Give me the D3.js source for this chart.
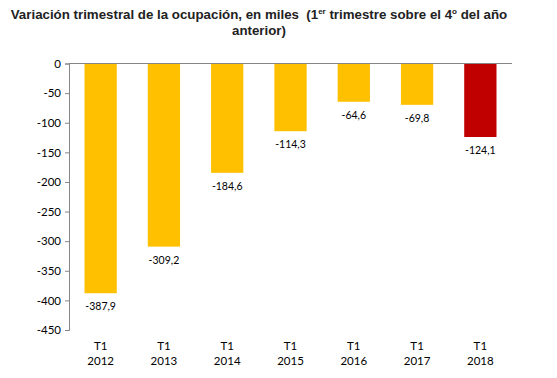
<!DOCTYPE html>
<html><head><meta charset="utf-8">
<script src="https://cdn.jsdelivr.net/npm/d3@7"></script>
<style>body{margin:0;background:#fff}svg{display:block}</style>
</head><body>
<svg id="c" width="557" height="378"></svg>
<script>
const years = ["2012","2013","2014","2015","2016","2017","2018"];
const quarter = "T1";
const values = [-387.9, -309.2, -184.6, -114.3, -64.6, -69.8, -124.1];
const barColors = ["#FFC000","#FFC000","#FFC000","#FFC000","#FFC000","#FFC000","#C00000"];
const yTicks = [0,-50,-100,-150,-200,-250,-300,-350,-400,-450];

(function(){
const svg = d3.select("#c");
const mLeft = 69, mRight = 512, mTop = 63.5, mBottom = 330;
const x = d3.scaleBand().domain(years).range([mLeft, mRight]).paddingInner(0.49).paddingOuter(0.245);
const y = d3.scaleLinear().domain([0, -450]).range([mTop, mBottom]);
const fmt = v => v.toFixed(1).replace(".", ",");
const font = "Lato, 'Open Sans', sans-serif";

// title
const t = svg.append("text").attr("x", 259).attr("y", 19).attr("text-anchor","middle")
  .style("white-space","pre")
  .style("font-family","Liberation Sans, Arial, sans-serif").style("font-weight","bold").style("font-size","13.3px").attr("fill","#222");
t.append("tspan").text("Variación trimestral de la ocupación, en miles  (1");
t.append("tspan").text("er").attr("dy",-5).style("font-size","8px");
t.append("tspan").text(" trimestre sobre el 4").attr("dy",5);
t.append("tspan").text("o").attr("dy",-5).style("font-size","8px");
t.append("tspan").text(" del año").attr("dy",5);
svg.append("text").attr("x",259).attr("y",35).attr("text-anchor","middle")
  .style("font-family","Liberation Sans, Arial, sans-serif").style("font-weight","bold").style("font-size","13.3px").attr("fill","#222").text("anterior)");

// y axis
const yAxis = d3.axisLeft(y).tickValues(yTicks).tickSize(4).tickFormat(d => String(d));
const ga = svg.append("g").attr("transform",`translate(${mLeft},0)`).call(yAxis);
ga.select(".domain").attr("stroke","#868686");
ga.selectAll(".tick line").attr("stroke","#868686");
ga.selectAll(".tick text").attr("x",-8).style("font-family",font).style("font-size","11.5px").attr("fill","#000");

// bars
svg.selectAll("rect.bar").data(values).join("rect").attr("class","bar")
  .attr("x",(d,i)=>x(years[i])).attr("width",x.bandwidth())
  .attr("y",y(0)).attr("height",d=>y(d)-y(0)).attr("fill",(d,i)=>barColors[i]);

// zero line
svg.append("line").attr("x1",mLeft).attr("x2",mRight).attr("y1",y(0)).attr("y2",y(0)).attr("stroke","#868686");

// value labels
svg.selectAll("text.val").data(values).join("text").attr("class","val")
  .attr("x",(d,i)=>x(years[i])+x.bandwidth()/2).attr("y",d=>y(d)+17)
  .attr("text-anchor","middle").style("font-family",font).style("font-size","10.5px").attr("fill","#000")
  .text(d=>fmt(d));

// x labels
const xl = svg.selectAll("g.xl").data(years).join("g").attr("class","xl")
  .attr("transform",d=>`translate(${x(d)+x.bandwidth()/2},0)`);
xl.append("text").attr("y",350).attr("text-anchor","middle").style("font-family",font).style("font-size","11.5px").attr("fill","#000").text(quarter);
xl.append("text").attr("y",365).attr("text-anchor","middle").style("font-family",font).style("font-size","11.5px").attr("fill","#000").text(d=>d);
})();
</script>
</body></html>
